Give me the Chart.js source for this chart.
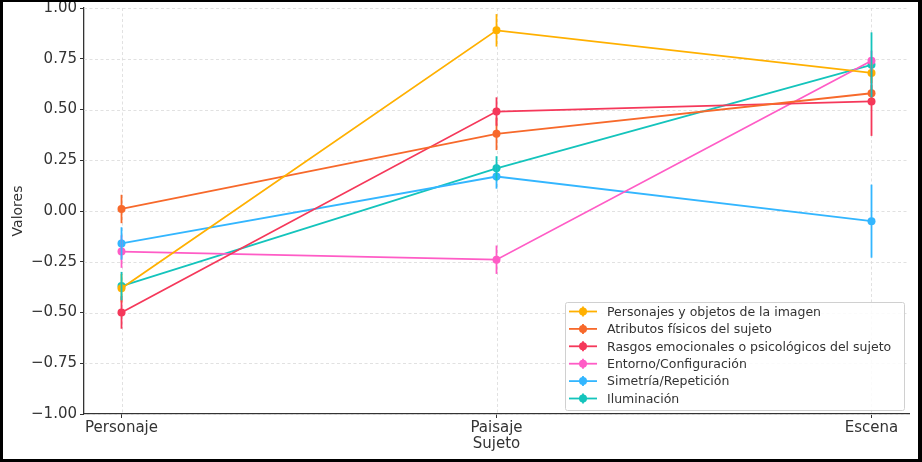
<!DOCTYPE html>
<html>
<head>
<meta charset="utf-8">
<script src="https://cdn.jsdelivr.net/npm/chart.js@4.4.0/dist/chart.umd.min.js"></script>
<style>
  html, body { margin: 0; padding: 0; background: #fff; }
  #wrap { position: relative; width: 922px; height: 462px; }
  #frame { position: absolute; left: 0; top: 0; width: 922px; height: 462px; box-sizing: border-box;
           border-left: 3px solid #000; border-top: 2px solid #000; border-right: 4px solid #000; border-bottom: 3px solid #000;
           pointer-events: none; }
</style>
</head>
<body>
<div id="wrap">
  <canvas id="chart" width="922" height="462"></canvas>
  <div id="frame"></div>
</div>
<script>
// categories on the x axis
let categories = ['Personaje', 'Paisaje', 'Escena'];

let seriesNames = [
  'Personajes y objetos de la imagen',
  'Atributos físicos del sujeto',
  'Rasgos emocionales o psicológicos del sujeto',
  'Entorno/Configuración',
  'Simetría/Repetición',
  'Iluminación'
];
let seriesColors = ['#ffb000', '#f7692b', '#f5385a', '#ff5cc6', '#33b6ff', '#14c4bc'];

// values per series (Personaje, Paisaje, Escena)
let personajesVals = [-0.38, 0.89, 0.68];
let atributosVals  = [0.01, 0.38, 0.58];
let rasgosVals     = [-0.50, 0.49, 0.54];
let entornoVals    = [-0.20, -0.24, 0.74];
let simetriaVals   = [-0.16, 0.17, -0.05];
let iluminVals     = [-0.37, 0.21, 0.72];

// error bar half-lengths
let personajesErr = [0.07, 0.08, 0.05];
let atributosErr  = [0.07, 0.08, 0.04];
let rasgosErr     = [0.08, 0.07, 0.17];
let entornoErr    = [0.08, 0.07, 0.05];
let simetriaErr   = [0.08, 0.06, 0.18];
let iluminErr     = [0.07, 0.06, 0.16];

let yTicks = [-1.00, -0.75, -0.50, -0.25, 0.00, 0.25, 0.50, 0.75, 1.00];

let allVals = [personajesVals, atributosVals, rasgosVals, entornoVals, simetriaVals, iluminVals];
let allErr = [personajesErr, atributosErr, rasgosErr, entornoErr, simetriaErr, iluminErr];

let datasets = seriesNames.map(function (name, i) {
  return {
    label: name,
    data: allVals[i].map(function (v, j) { return { x: j, y: v }; }),
    errors: allErr[i],
    borderColor: seriesColors[i],
    backgroundColor: seriesColors[i],
    borderWidth: 1.8,
    pointRadius: 4,
    pointHoverRadius: 4,
    pointBorderWidth: 0,
    tension: 0
  };
});

// dashed grid behind everything
let gridPlugin = {
  id: 'dashGrid',
  beforeDatasetsDraw(chart) {
    let c = chart.ctx, a = chart.chartArea, xs = chart.scales.x, ys = chart.scales.y;
    c.save();
    c.strokeStyle = '#d9d9d9';
    c.lineWidth = 0.8;
    c.setLineDash([3, 2.5]);
    yTicks.forEach(function (t) {
      let py = Math.round(ys.getPixelForValue(t)) + 0.5;
      c.beginPath(); c.moveTo(a.left, py); c.lineTo(a.right, py); c.stroke();
    });
    categories.forEach(function (cat, j) {
      let px = Math.round(xs.getPixelForValue(j)) + 0.5;
      c.beginPath(); c.moveTo(px, a.top); c.lineTo(px, a.bottom); c.stroke();
    });
    c.restore();
  }
};

// vertical error bars
let errorPlugin = {
  id: 'errorBars',
  afterDatasetsDraw(chart) {
    let c = chart.ctx, xs = chart.scales.x, ys = chart.scales.y;
    c.save();
    c.lineWidth = 1.8;
    chart.data.datasets.forEach(function (ds) {
      c.strokeStyle = ds.borderColor;
      ds.data.forEach(function (p, j) {
        let e = ds.errors[j];
        let px = xs.getPixelForValue(p.x);
        c.beginPath();
        c.moveTo(px, ys.getPixelForValue(p.y + e));
        c.lineTo(px, ys.getPixelForValue(p.y - e));
        c.stroke();
      });
    });
    c.restore();
  }
};

// legend inside the plot, lower right
let legendPlugin = {
  id: 'boxLegend',
  afterDraw(chart) {
    let c = chart.ctx, a = chart.chartArea;
    let w = 339, h = 108;
    let x0 = a.right - 5 - w, y0 = a.bottom - 4 - h;
    c.save();
    c.fillStyle = 'rgba(255,255,255,0.85)';
    c.strokeStyle = '#d0d0d0';
    c.lineWidth = 1;
    c.beginPath();
    c.roundRect(x0 + 0.5, y0 + 0.5, w, h, 2);
    c.fill(); c.stroke();
    c.font = '12.5px "DejaVu Sans"';
    c.textBaseline = 'middle';
    chart.data.datasets.forEach(function (ds, i) {
      let ry = y0 + 9.5 + i * 17.4;
      c.strokeStyle = ds.borderColor;
      c.fillStyle = ds.borderColor;
      c.lineWidth = 1.8;
      c.beginPath(); c.moveTo(x0 + 4, ry); c.lineTo(x0 + 32, ry); c.stroke();
      c.beginPath(); c.moveTo(x0 + 18, ry - 5); c.lineTo(x0 + 18, ry + 5); c.stroke();
      c.beginPath(); c.arc(x0 + 18, ry, 4, 0, Math.PI * 2); c.fill();
      c.fillStyle = '#333';
      c.fillText(ds.label, x0 + 42, ry + 1);
    });
    c.restore();
  }
};

let ctx = document.getElementById('chart').getContext('2d');

let chart = new Chart(ctx, {
  type: 'line',
  data: { datasets: datasets },
  plugins: [gridPlugin, errorPlugin, legendPlugin],
  options: {
    responsive: false,
    animation: false,
    events: [],
    layout: { padding: { top: 8, right: 13, left: 0, bottom: 9 } },
    plugins: { legend: { display: false }, tooltip: { enabled: false } },
    scales: {
      x: {
        type: 'linear',
        min: -0.1,
        max: 2.1,
        afterBuildTicks: function (s) { s.ticks = categories.map(function (c, j) { return { value: j }; }); },
        afterFit: function (s) { s.height = 39; s.paddingLeft = 0; s.paddingRight = 0; },
        ticks: {
          autoSkip: false,
          maxRotation: 0,
          padding: 1,
          color: '#333',
          font: { family: 'DejaVu Sans', size: 15 },
          callback: function (v) { return categories[v]; }
        },
        grid: { drawOnChartArea: false, drawTicks: true, tickLength: 4, color: '#333', lineWidth: 1 },
        border: { display: true, color: '#333', width: 1.3 },
        title: { display: true, text: 'Sujeto', color: '#333', font: { family: 'DejaVu Sans', size: 15 }, padding: { top: 0, bottom: 0 } }
      },
      y: {
        min: -1,
        max: 1,
        afterBuildTicks: function (s) { s.ticks = yTicks.map(function (v) { return { value: v }; }); },
        afterFit: function (s) { s.width = 84; s.paddingTop = 0; s.paddingBottom = 0; },
        ticks: {
          padding: 3,
          color: '#333',
          font: { family: 'DejaVu Sans', size: 15 },
          callback: function (v) { return (v < 0 ? '\u2212' : '') + Math.abs(v).toFixed(2); }
        },
        grid: { drawOnChartArea: false, drawTicks: true, tickLength: 4, color: '#333', lineWidth: 1 },
        border: { display: true, color: '#333', width: 1.3 },
        title: { display: true, text: 'Valores', color: '#333', font: { family: 'DejaVu Sans', size: 14 }, padding: { top: 10, bottom: 4 } }
      }
    }
  }
});
</script>
</body>
</html>
